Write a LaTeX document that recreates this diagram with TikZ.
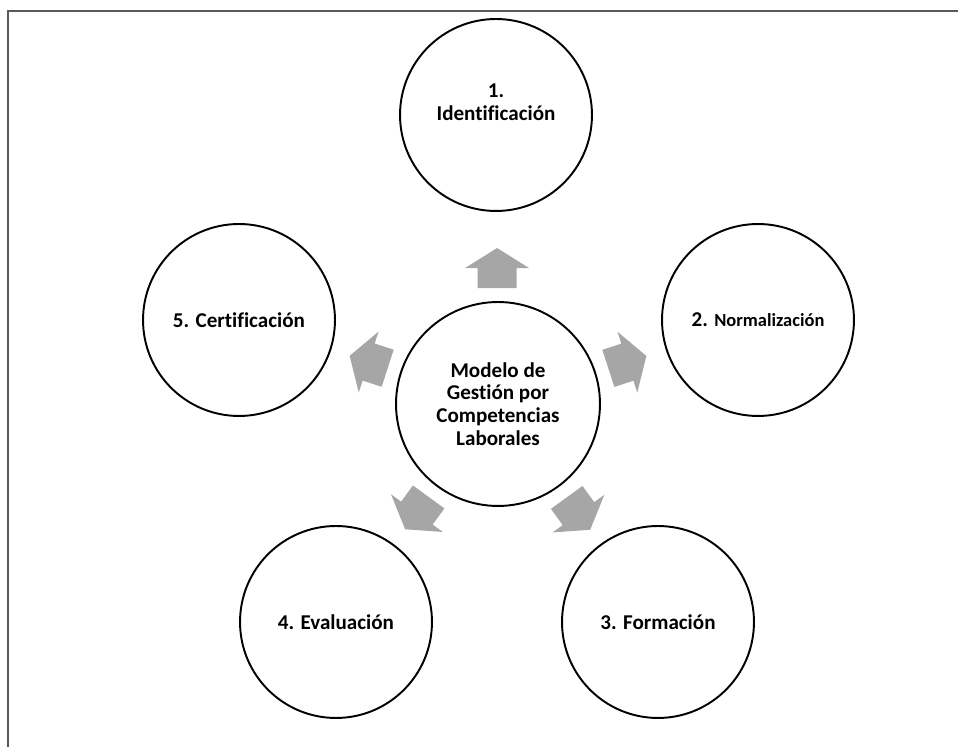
\documentclass[tikz,border=0pt]{standalone}
\usepackage{fontspec}
\setmainfont{Carlito}[Ligatures=NoCommon]
\usetikzlibrary{calc}
\definecolor{arrowgray}{RGB}{166,166,166}
\definecolor{framegray}{RGB}{90,90,90}

\begin{document}
\begin{tikzpicture}[x=0.02cm, y=0.02cm,
  font=\bfseries\fontsize{12}{13}\selectfont,
  ring/.style={draw, circle, line width=1.1pt, minimum size=3.84cm, align=center, inner sep=0pt},
  hub/.style={ring, minimum size=4.08cm},
  pics/blockarrow/.style={code={
    \fill[arrowgray] (-20,-19.5) -- (0,-19.5) -- (0,-32) -- (20,0) -- (0,32) -- (0,19.5) -- (-20,19.5) -- cycle;}}]
\useasboundingbox (0,0) rectangle (958,747);
% frame (only top and left edges are visible)
\draw[framegray, line width=1.4pt] (8,0) -- (8,736) -- (958,736);
% circles
\node[hub] (c) at (498,343) {Modelo de\\Gestión por\\Competencias\\Laborales};
\node[ring] (n1) at (496,632) {1.\\Identificación\\[2pt]};
\node[ring] (n2) at (758,427) {2. {\fontsize{10.5}{12}\selectfont Normalización}};
\node[ring] (n3) at (658,125) {3. Formación};
\node[ring] (n4) at (336,125) {4. Evaluación};
\node[ring] (n5) at (239,427) {5. Certificación};
% block arrows
\foreach \n/\a in {n1/90, n2/18, n3/-54, n4/-126, n5/162}
  \pic[rotate=\a] at ($(c)!2.72cm!(\n)$) {blockarrow};
\end{tikzpicture}
\end{document}
